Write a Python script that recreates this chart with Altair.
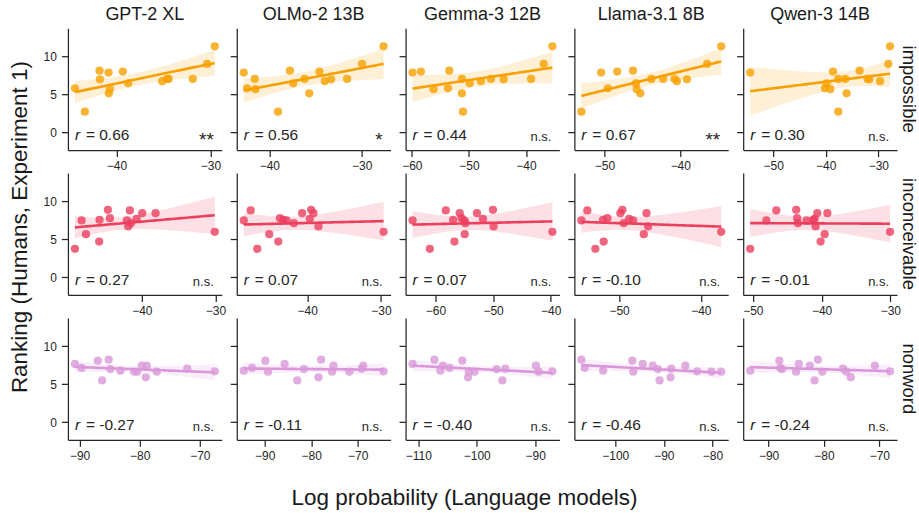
import altair as alt
import numpy as np
import pandas as pd

FONT = "Liberation Sans"
TXT = "#262626"
DARK = "#1a1a1a"

models = ["GPT-2 XL", "OLMo-2 13B", "Gemma-3 12B", "Llama-3.1 8B", "Qwen-3 14B"]
conditions = ["impossible", "inconceivable", "nonword"]
colors = ["#F7A000", "#EB3F5E", "#DA98DA"]
x_title = "Log probability (Language models)"
y_title = "Ranking (Humans, Experiment 1)"

# ---- impossible ----
gpt2_imp_x = [-44.43, -43.37, -41.81, -41.77, -40.85, -40.82, -40.71, -39.33, -38.76, -35.14, -34.61, -34.45, -31.88, -30.35, -29.54]
gpt2_imp_y = [5.81, 2.73, 8.15, 7.0, 7.89, 5.15, 5.7, 8.02, 6.48, 6.75, 7.05, 7.05, 7.05, 9.03, 11.37]
olmo_imp_x = [-42.77, -42.41, -41.58, -41.51, -39.06, -37.77, -37.41, -36.19, -35.68, -34.57, -33.99, -33.31, -31.58, -29.96, -27.63]
olmo_imp_y = [7.89, 5.81, 7.05, 5.7, 2.73, 8.15, 6.48, 7.05, 5.15, 8.02, 6.75, 7.0, 7.05, 9.03, 11.37]
gemma_imp_x = [-59.88, -58.42, -56.2, -53.68, -53.45, -51.23, -51.23, -51.05, -49.88, -47.9, -46.14, -43.92, -39.12, -36.9, -35.38]
gemma_imp_y = [7.89, 8.02, 5.7, 5.81, 8.15, 7.05, 5.15, 2.73, 6.48, 6.75, 7.05, 7.0, 7.05, 9.03, 11.37]
llama_imp_x = [-53.05, -50.44, -49.56, -48.32, -46.24, -45.84, -45.75, -45.27, -43.81, -42.26, -40.75, -40.44, -39.12, -36.46, -34.6]
llama_imp_y = [2.73, 7.89, 5.81, 8.02, 8.15, 6.48, 5.7, 5.15, 7.05, 7.05, 7.05, 6.75, 7.0, 9.03, 11.37]
qwen_imp_x = [-54.38, -39.85, -40.15, -39.14, -38.63, -37.62, -37.62, -36.29, -36.04, -33.56, -32.04, -31.71, -29.67, -28.1, -27.77]
qwen_imp_y = [7.89, 6.48, 5.81, 5.7, 8.02, 7.05, 2.73, 7.05, 5.15, 8.15, 7.05, 7.0, 6.75, 9.03, 11.37]

# ---- inconceivable ----
gpt2_inc_x = [-49.1, -48.19, -47.6, -45.75, -45.8, -44.62, -44.34, -42.04, -41.86, -41.63, -41.49, -40.72, -39.95, -38.14, -30.09]
gpt2_inc_y = [3.74, 7.49, 5.68, 7.58, 4.71, 8.9, 7.8, 7.49, 6.7, 8.81, 7.14, 7.71, 8.46, 8.46, 5.99]
olmo_inc_x = [-48.6, -47.66, -46.76, -45.14, -43.92, -43.69, -43.24, -42.79, -41.8, -40.68, -39.64, -39.46, -39.14, -38.47, -29.64]
olmo_inc_y = [7.49, 8.81, 3.74, 5.68, 4.71, 7.8, 7.58, 7.49, 7.14, 8.46, 7.71, 8.9, 8.46, 6.7, 5.99]
gemma_inc_x = [-63.98, -60.98, -58.21, -56.95, -56.71, -55.79, -55.5, -54.99, -54.81, -54.93, -52.8, -51.76, -50.03, -49.91, -39.71]
gemma_inc_y = [7.49, 3.74, 8.81, 7.58, 4.71, 8.46, 7.8, 7.49, 7.14, 5.68, 8.46, 7.71, 8.9, 6.7, 5.99]
llama_inc_x = [-54.61, -53.88, -52.9, -51.96, -51.88, -51.43, -49.84, -49.59, -49.43, -48.78, -48.29, -46.65, -46.98, -46.45, -37.51]
llama_inc_y = [7.49, 8.81, 3.74, 7.58, 4.71, 7.8, 8.46, 8.9, 7.14, 7.71, 7.49, 8.46, 5.68, 6.7, 5.99]
qwen_inc_x = [-50.39, -48.05, -46.59, -43.7, -43.56, -43.45, -42.2, -41.22, -41.02, -40.88, -40.63, -40.15, -39.56, -39.17, -30.05]
qwen_inc_y = [3.74, 7.49, 8.81, 8.9, 7.8, 7.14, 7.49, 7.58, 7.71, 6.7, 8.46, 4.71, 5.68, 8.46, 5.99]

# ---- nonword ----
gpt2_non_x = [-90.77, -89.67, -86.97, -86.25, -85.15, -84.88, -83.22, -80.91, -80.4, -79.64, -78.82, -78.98, -77.16, -72.09, -67.52]
gpt2_non_y = [7.67, 7.14, 8.1, 5.5, 8.24, 7.0, 6.78, 6.65, 6.65, 7.44, 7.44, 5.9, 6.65, 7.05, 6.7]
olmo_non_x = [-94.5, -92.71, -89.86, -89.29, -85.71, -83.0, -81.57, -78.43, -77.86, -75.5, -75.21, -71.79, -69.14, -68.79, -64.43]
olmo_non_y = [6.78, 7.14, 8.1, 6.65, 7.67, 5.5, 7.0, 5.9, 8.24, 6.65, 7.44, 6.65, 7.05, 7.44, 6.7]
gemma_non_x = [-110.98, -107.24, -106.21, -105.8, -104.66, -102.47, -101.49, -101.38, -100.4, -96.61, -95.63, -95.11, -89.89, -89.43, -87.07]
gemma_non_y = [7.67, 8.24, 6.78, 7.44, 7.14, 8.1, 5.9, 6.65, 6.65, 7.0, 5.5, 7.05, 7.44, 6.65, 6.7]
llama_non_x = [-106.97, -106.28, -102.48, -96.5, -96.3, -94.34, -92.28, -91.24, -90.9, -88.62, -88.48, -85.59, -83.17, -80.21, -78.21]
llama_non_y = [8.24, 7.14, 6.78, 8.1, 6.65, 7.67, 7.44, 7.0, 5.5, 5.9, 7.05, 7.44, 6.7, 6.65, 6.65]
qwen_non_x = [-93.33, -88.06, -87.88, -87.58, -85.03, -84.55, -82.55, -81.7, -81.09, -80.3, -76.55, -75.94, -75.15, -70.79, -68.06]
qwen_non_y = [6.78, 8.1, 7.14, 7.0, 6.65, 7.67, 7.44, 5.5, 8.24, 6.65, 7.05, 6.65, 5.9, 7.44, 6.7]

# correlation labels and significance
r_imp = ["0.66", "0.56", "0.44", "0.67", "0.30"]
r_inc = ["0.27", "0.07", "0.07", "-0.10", "-0.01"]
r_non = ["-0.27", "-0.11", "-0.40", "-0.46", "-0.24"]
sig_imp = ["**", "*", "n.s.", "**", "n.s."]
sig_inc = ["n.s.", "n.s.", "n.s.", "n.s.", "n.s."]
sig_non = ["n.s.", "n.s.", "n.s.", "n.s.", "n.s."]

# x tick labels
ticks_imp = [[-40, -30], [-40, -30], [-60, -50, -40], [-50, -40], [-50, -40, -30]]
ticks_inc = [[-40, -30], [-40, -30], [-60, -50, -40], [-50, -40], [-50, -40, -30]]
ticks_non = [[-90, -80, -70], [-90, -80, -70], [-110, -100, -90], [-100, -90, -80], [-90, -80, -70]]
y_ticks = [0, 5, 10]

xs_all = [
    [gpt2_imp_x, olmo_imp_x, gemma_imp_x, llama_imp_x, qwen_imp_x],
    [gpt2_inc_x, olmo_inc_x, gemma_inc_x, llama_inc_x, qwen_inc_x],
    [gpt2_non_x, olmo_non_x, gemma_non_x, llama_non_x, qwen_non_x],
]
ys_all = [
    [gpt2_imp_y, olmo_imp_y, gemma_imp_y, llama_imp_y, qwen_imp_y],
    [gpt2_inc_y, olmo_inc_y, gemma_inc_y, llama_inc_y, qwen_inc_y],
    [gpt2_non_y, olmo_non_y, gemma_non_y, llama_non_y, qwen_non_y],
]
r_all = [r_imp, r_inc, r_non]
sig_all = [sig_imp, sig_inc, sig_non]
ticks_all = [ticks_imp, ticks_inc, ticks_non]

W, H = 154, 122
Y_DOMAIN = [-2.35, 13.75]
T_CRIT = 2.16  # 95% two-sided, df = 13


def fit_band(x, y):
    x = np.asarray(x, float)
    y = np.asarray(y, float)
    n = len(x)
    b1, b0 = np.polyfit(x, y, 1)
    grid = np.linspace(x.min(), x.max(), 60)
    yhat = b0 + b1 * grid
    resid = y - (b0 + b1 * x)
    s = np.sqrt(np.sum(resid ** 2) / (n - 2))
    sxx = np.sum((x - x.mean()) ** 2)
    se = s * np.sqrt(1.0 / n + (grid - x.mean()) ** 2 / sxx)
    lo = np.clip(yhat - T_CRIT * se, Y_DOMAIN[0], Y_DOMAIN[1])
    hi = np.clip(yhat + T_CRIT * se, Y_DOMAIN[0], Y_DOMAIN[1])
    return pd.DataFrame({"x": grid, "fit": yhat, "lo": lo, "hi": hi})


def label(text, **kw):
    return alt.Chart(pd.DataFrame({"t": [text]})).mark_text(font=FONT, **kw)


def panel(ri, ci):
    xs, ys = xs_all[ri][ci], ys_all[ri][ci]
    color = colors[ri]
    df = pd.DataFrame({"x": xs, "y": ys})
    fit = fit_band(xs, ys)
    lo, hi = min(xs), max(xs)
    pad = 0.05 * (hi - lo)
    xscale = alt.Scale(domain=[lo - pad, hi + pad], nice=False, zero=False)
    yscale = alt.Scale(domain=Y_DOMAIN, nice=False, zero=False)
    xaxis = alt.Axis(values=ticks_all[ri][ci], title=None)
    yaxis = alt.Axis(values=y_ticks, labels=(ci == 0), title=None)

    band = alt.Chart(fit).mark_area(color=color, opacity=0.16).encode(
        x=alt.X("x:Q", scale=xscale, axis=xaxis),
        y=alt.Y("lo:Q", scale=yscale, axis=yaxis),
        y2="hi:Q",
    )
    line = alt.Chart(fit).mark_line(color=color, strokeWidth=2.6).encode(
        x=alt.X("x:Q", scale=xscale, axis=xaxis),
        y=alt.Y("fit:Q", scale=yscale, axis=yaxis),
    )
    pts = alt.Chart(df).mark_circle(color=color, opacity=0.8, size=68).encode(
        x=alt.X("x:Q", scale=xscale, axis=xaxis),
        y=alt.Y("y:Q", scale=yscale, axis=yaxis),
    )
    r_sym = label("r", fontSize=15.5, fontStyle="italic", align="left",
                  baseline="alphabetic", color=TXT).encode(
        x=alt.value(7), y=alt.value(H - 10), text="t:N")
    r_val = label("= " + r_all[ri][ci], fontSize=15.5, align="left",
                  baseline="alphabetic", color=TXT).encode(
        x=alt.value(18), y=alt.value(H - 10), text="t:N")
    s = sig_all[ri][ci]
    if s.startswith("*"):
        sig = label(s, fontSize=19, align="right", baseline="alphabetic", color=TXT).encode(
            x=alt.value(W - 8), y=alt.value(H - 4), text="t:N")
    else:
        sig = label(s, fontSize=13, align="right", baseline="alphabetic", color=TXT).encode(
            x=alt.value(W - 8), y=alt.value(H - 9), text="t:N")
    layers = [band, line, pts, r_sym, r_val, sig]
    if ri == 0:
        layers.append(label(models[ci], fontSize=18, align="center", baseline="alphabetic",
                            color=DARK).encode(x=alt.value(W / 2), y=alt.value(-8), text="t:N"))
    if ci == 4:
        layers.append(label(conditions[ri], fontSize=18.5, angle=90, align="center",
                            baseline="middle", color=DARK).encode(
            x=alt.value(W + 12), y=alt.value(H / 2), text="t:N"))
    if ri == 1 and ci == 0:
        layers.append(label(y_title, fontSize=22.5, angle=270, align="center",
                            baseline="alphabetic", color=DARK).encode(
            x=alt.value(-41), y=alt.value(54), text="t:N"))
    if ri == 2 and ci == 2:
        layers.append(label(x_title, fontSize=22.5, align="center",
                            baseline="alphabetic", color=DARK).encode(
            x=alt.value(59), y=alt.value(H + 65), text="t:N"))
    return alt.layer(*layers).properties(width=W, height=H)


panels = [panel(ri, ci) for ri in range(3) for ci in range(5)]

chart = alt.concat(*panels, columns=5, spacing={"row": 23, "column": 15}, bounds="flush").properties(
    padding={"left": 8, "top": 6, "right": 1, "bottom": 4}
).configure_view(stroke=None).configure_axis(
    domainColor=TXT, tickColor=TXT, labelColor=TXT, domainWidth=1.25, tickWidth=1.25,
    tickSize=6.5, labelFont=FONT, labelFontSize=12, labelPadding=4, grid=False,
    labelFlush=False, labelOverlap=False, labelBound=False
).configure_axisY(labelPadding=5)

chart.save("out.html", embed_options={"renderer": "svg", "actions": False})
